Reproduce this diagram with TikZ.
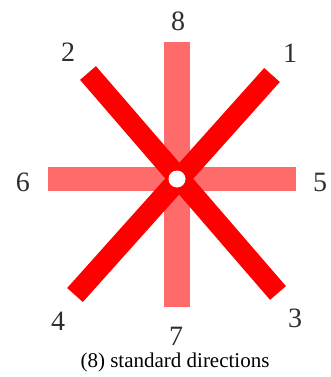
\documentclass[tikz,border=0pt]{standalone}
\usepackage{fontspec}
\setmainfont{Liberation Serif}
\definecolor{lightbar}{HTML}{FF6B6B}
\definecolor{strongbar}{HTML}{FF0000}
\definecolor{digit}{HTML}{2E2E2E}
\begin{document}
\begin{tikzpicture}[x=1pt,y=-1pt,
  softbar/.style={draw=lightbar,line width=26pt},
  hardbar/.style={draw=strongbar,line width=21pt},
  dirlabel/.style={text=digit,font=\fontsize{28}{28}\selectfont,inner sep=0pt},
  caption/.style={font=\fontsize{21}{23}\selectfont,inner sep=0pt}]
\useasboundingbox (0,0) rectangle (330,377);
\coordinate (c) at (177,179);
\coordinate (top) at (177,42);
\coordinate (bot) at (177,307);
\coordinate (lft) at (48,179);
\coordinate (rgt) at (296,179);
\coordinate (d2) at (88,73);
\coordinate (d3) at (278,293);
\coordinate (d1) at (272,75);
\coordinate (d4) at (75,295);
\draw[softbar] (top) -- (bot);
\draw[draw=lightbar,line width=24pt] (lft) -- (rgt);
\draw[hardbar] (d2) -- (d3);
\draw[hardbar] (d1) -- (d4);
\node[circle,fill=white,minimum size=17pt,inner sep=0pt] (hub) at (c) {};
\node[dirlabel] (l8) at (178,21) {8};
\node[dirlabel] (l2) at (68,52) {2};
\node[dirlabel] (l1) at (290,53) {1};
\node[dirlabel] (l6) at (23,182) {6};
\node[dirlabel] (l5) at (320,182) {5};
\node[dirlabel] (l4) at (58,321) {4};
\node[dirlabel] (l7) at (176,336) {7};
\node[dirlabel] (l3) at (295,318) {3};
\node[caption] (cap) at (175,362) {(8) standard directions};
\end{tikzpicture}
\end{document}
